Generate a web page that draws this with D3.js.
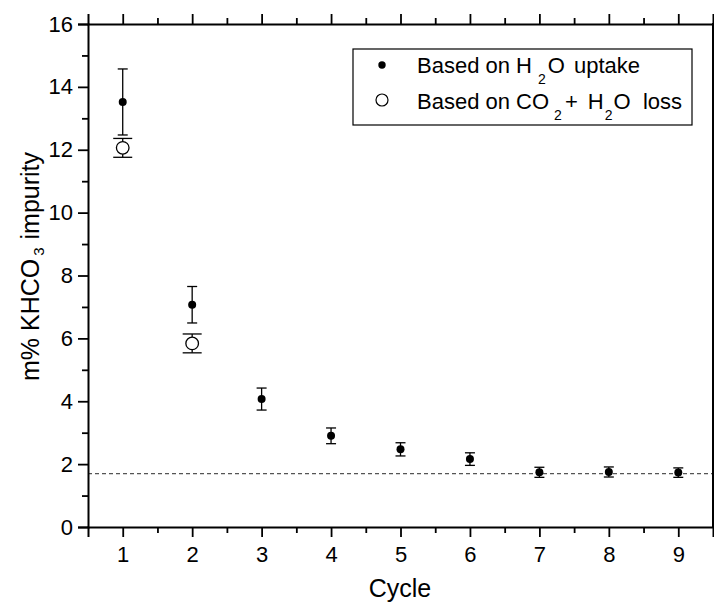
<!DOCTYPE html>
<html><head><meta charset="utf-8">
<script src="https://cdn.jsdelivr.net/npm/d3@7"></script>
<style>body{margin:0;background:#fff}svg{display:block}text{font-family:"Liberation Sans",Arial,sans-serif}</style>
</head><body>
<svg id="c" width="714" height="608"></svg>
<script>
const cycles = [1,2,3,4,5,6,7,8,9];
const h2oUptake = [13.52,7.07,4.07,2.90,2.47,2.16,1.74,1.75,1.73];
const h2oUptakeErr = [1.05,0.58,0.35,0.25,0.21,0.2,0.16,0.16,0.15];
const lossCycles = [1,2];
const co2h2oLoss = [12.06,5.84];
const co2h2oLossErr = [0.3,0.3];
const baseline = 1.70;
const xTicks = [1,2,3,4,5,6,7,8,9];
const yTicks = [0,2,4,6,8,10,12,14,16];

const svg = d3.select("#c");
const L=88,R=713,T=24,B=527;
const x = d3.scaleLinear().domain([0.5,9.5]).range([L,R]);
const y = d3.scaleLinear().domain([0,16]).range([B,T]);

// baseline dashed
svg.append("line").attr("x1",L).attr("x2",R).attr("y1",y(baseline)).attr("y2",y(baseline))
  .attr("stroke","#555").attr("stroke-width",1.2).attr("stroke-dasharray","4,3");

// axes
const xMinor = d3.range(1.5,9.5,1);
const yMinor = d3.range(1,16,2);
const gx = svg.append("g").attr("transform",`translate(0,${B})`)
  .call(d3.axisBottom(x).tickValues(xTicks).tickFormat(d3.format("d")).tickSize(10).tickPadding(9));
const gx2 = svg.append("g").attr("transform",`translate(0,${B})`)
  .call(d3.axisBottom(x).tickValues(xMinor).tickFormat("").tickSize(6));
const gxt = svg.append("g").attr("transform",`translate(0,${T})`)
  .call(d3.axisTop(x).tickValues(xTicks).tickFormat("").tickSize(10));
const gxt2 = svg.append("g").attr("transform",`translate(0,${T})`)
  .call(d3.axisTop(x).tickValues(xMinor).tickFormat("").tickSize(6));
const gy = svg.append("g").attr("transform",`translate(${L},0)`)
  .call(d3.axisLeft(y).tickValues(yTicks).tickFormat(d3.format("d")).tickSize(10).tickPadding(5));
const gy2 = svg.append("g").attr("transform",`translate(${L},0)`)
  .call(d3.axisLeft(y).tickValues(yMinor).tickFormat("").tickSize(6));
[gx2,gxt2,gy2].forEach(g=>g.select(".domain").remove());
svg.append("line").attr("x1",R).attr("x2",R).attr("y1",T-1).attr("y2",B+1).attr("stroke","#000").attr("stroke-width",2);
svg.selectAll(".domain").attr("stroke","#000").attr("stroke-width",2);
svg.selectAll(".tick line").attr("stroke","#000").attr("stroke-width",1.8);
svg.selectAll(".tick text").attr("font-size",22).attr("fill","#000").style("font-family","Liberation Sans, Arial, sans-serif");

// error bars
function errBars(xs, vals, errs, cap){
  const g = svg.append("g").attr("stroke","#000").attr("stroke-width",1.3);
  xs.forEach((c,i)=>{
    const cx = x(c), top=y(vals[i]+errs[i]), bot=y(vals[i]-errs[i]);
    g.append("line").attr("x1",cx).attr("x2",cx).attr("y1",top).attr("y2",bot);
    g.append("line").attr("x1",cx-cap).attr("x2",cx+cap).attr("y1",top).attr("y2",top);
    g.append("line").attr("x1",cx-cap).attr("x2",cx+cap).attr("y1",bot).attr("y2",bot);
  });
}
errBars(lossCycles, co2h2oLoss, co2h2oLossErr, 9.5);
errBars(cycles, h2oUptake, h2oUptakeErr, 5);

svg.append("g").selectAll("circle").data(lossCycles).join("circle")
  .attr("cx",d=>x(d)).attr("cy",(d,i)=>y(co2h2oLoss[i])).attr("r",6.3)
  .attr("fill","#fff").attr("stroke","#000").attr("stroke-width",1.3);
svg.append("g").selectAll("circle").data(cycles).join("circle")
  .attr("cx",d=>x(d)).attr("cy",(d,i)=>y(h2oUptake[i])).attr("r",4).attr("fill","#000");

// legend
svg.append("rect").attr("x",353).attr("y",49).attr("width",339).attr("height",76)
  .attr("fill","#fff").attr("stroke","#000").attr("stroke-width",1.2);
svg.append("circle").attr("cx",382).attr("cy",65).attr("r",3.7).attr("fill","#000");
svg.append("circle").attr("cx",382).attr("cy",100).attr("r",6).attr("fill","#fff").attr("stroke","#000").attr("stroke-width",1.2);
// parts: [text, dx, isSub]
function legendLine(parts, base){
  const t = svg.append("text").attr("x",417).attr("y",base).attr("font-size",22).attr("fill","#000");
  let sub=false;
  parts.forEach(p=>{
    const s = t.append("tspan").attr("dx",p[1]).attr("font-size",p[2]?14:22).text(p[0]);
    if(p[2] && !sub) s.attr("dy",11);
    if(!p[2] && sub) s.attr("dy",-11);
    sub=!!p[2];
  });
}
legendLine([["Based on H",0],["2",6,1],["O",2],["\u00a0uptake",3]],73);
legendLine([["Based on CO",0],["2",5,1],["+",3],["\u00a0H",4],["2",1,1],["O",1],["\u00a0\u00a0loss",0]],109);

// titles
svg.append("text").attr("x",400).attr("y",597).attr("text-anchor","middle").attr("font-size",25).text("Cycle");
const yt = svg.append("text").attr("transform",`translate(39,381) rotate(-90)`).attr("text-anchor","start").attr("font-size",25);
yt.append("tspan").text("m% KHCO");
yt.append("tspan").text("3").attr("font-size",15).attr("dy",5).attr("dx",3);
yt.append("tspan").text("\u00a0impurity").attr("dy",-5).attr("dx",1);
</script>
</body></html>
